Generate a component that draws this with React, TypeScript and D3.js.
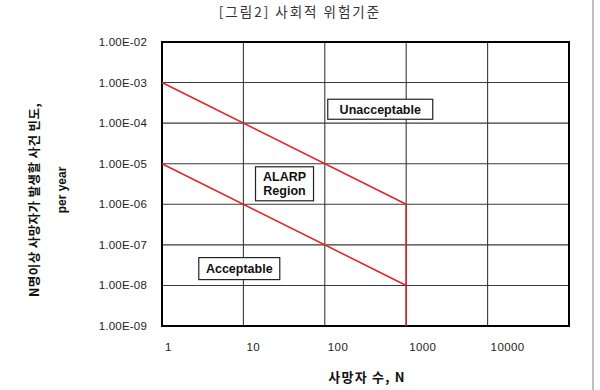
import React from 'react';
import * as d3 from 'd3';

// x: number of fatalities N, y: frequency per year
const xTicks = [1, 10, 100, 1000, 10000, 100000];
const xTickLabels = ['1', '10', '100', '1000', '10000'];
const yTicks = [1e-2, 1e-3, 1e-4, 1e-5, 1e-6, 1e-7, 1e-8, 1e-9];
const yTickLabels = ['1.00E-02', '1.00E-03', '1.00E-04', '1.00E-05', '1.00E-06', '1.00E-07', '1.00E-08', '1.00E-09'];

const upperLimit = [
  { n: 1, f: 1e-3 },
  { n: 1000, f: 1e-6 },
];
const lowerLimit = [
  { n: 1, f: 1e-5 },
  { n: 1000, f: 1e-8 },
];
const cutoff = [
  { n: 1000, f: 1e-6 },
  { n: 1000, f: 1e-9 },
];

const regionNames = [['Unacceptable'], ['ALARP', 'Region'], ['Acceptable']];
const regionN = [480, 32, 8.9];
const regionF = [2.2e-4, 3.2e-6, 2.6e-8];

interface Pt {
  n: number;
  f: number;
}

const App = () => {
  const width = 600;
  const height = 390;
  const margin = { top: 42, right: 31, bottom: 64, left: 162 };

  const x = d3.scaleLog().domain([1, 100000]).range([margin.left, width - margin.right]);
  const y = d3.scaleLog().domain([1e-9, 1e-2]).range([height - margin.bottom, margin.top]);

  const line = d3
    .line<Pt>()
    .x((d) => x(d.n))
    .y((d) => y(d.f));

  const boxW = [105, 58, 81];
  const boxH = [20, 34, 22];

  return (
    <svg
      width={width}
      height={height}
      style={{ position: 'absolute', left: 0, top: 0, background: '#fff' }}
      fontFamily="'Liberation Sans', Arial, sans-serif"
    >
      <text
        x={300}
        y={17}
        textAnchor="middle"
        fontSize={13.5}
        letterSpacing={2}
        fill="#333"
        fontFamily="'Noto Sans CJK KR', sans-serif"
      >
        [그림2] 사회적 위험기준
      </text>

      {/* grid */}
      {xTicks.slice(1, -1).map((t) => (
        <line key={'gx' + t} x1={x(t)} x2={x(t)} y1={y(1e-2)} y2={y(1e-9)} stroke="#3a3a3a" strokeWidth={1.1} />
      ))}
      {yTicks.slice(1, -1).map((t) => (
        <line key={'gy' + t} x1={x(1)} x2={x(100000)} y1={y(t)} y2={y(t)} stroke="#3a3a3a" strokeWidth={1.1} />
      ))}
      <rect
        x={x(1)}
        y={y(1e-2)}
        width={x(100000) - x(1)}
        height={y(1e-9) - y(1e-2)}
        fill="none"
        stroke="#000"
        strokeWidth={2}
      />

      {/* limits */}
      <path d={line(upperLimit) || ''} fill="none" stroke="#e0262a" strokeWidth={1.6} />
      <path d={line(lowerLimit) || ''} fill="none" stroke="#e0262a" strokeWidth={1.6} />
      <path d={line(cutoff) || ''} fill="none" stroke="#d42028" strokeWidth={1.6} />

      {/* region labels */}
      {regionNames.map((lines, i) => {
        const cx = x(regionN[i]);
        const cy = y(regionF[i]);
        return (
          <g key={'r' + i}>
            <rect
              x={cx - boxW[i] / 2}
              y={cy - boxH[i] / 2}
              width={boxW[i]}
              height={boxH[i]}
              fill="#fff"
              stroke="#222"
              strokeWidth={1.2}
            />
            {lines.map((s, j) => (
              <text
                key={s}
                x={cx}
                y={cy + (j - (lines.length - 1) / 2) * 14}
                dy="0.36em"
                textAnchor="middle"
                fontSize={12.5}
                fontWeight="bold"
                fill="#111"
              >
                {s}
              </text>
            ))}
          </g>
        );
      })}

      {/* x tick labels */}
      {xTickLabels.map((s, i) => (
        <text key={'xl' + s} x={x(xTicks[i]) + 3} y={351} fontSize={11.5} letterSpacing={0.4} fill="#222">
          {s}
        </text>
      ))}
      {/* y tick labels */}
      {yTickLabels.map((s, i) => (
        <text key={'yl' + s} x={147} y={y(yTicks[i])} dy="0.35em" textAnchor="end" fontSize={11.5} letterSpacing={0.2} fill="#222">
          {s}
        </text>
      ))}

      {/* axis titles */}
      <text
        x={367}
        y={382}
        textAnchor="middle"
        fontSize={13}
        fontWeight="bold"
        letterSpacing={1.2}
        fill="#111"
        fontFamily="'Noto Sans CJK KR', sans-serif"
      >
        사망자 수, N
      </text>
      <text
        transform="translate(35,200) rotate(-90)"
        textAnchor="middle"
        dy="0.35em"
        fontSize={12.5}
        fontWeight="bold"
        letterSpacing={0.4}
        fill="#111"
        fontFamily="'Noto Sans CJK KR', sans-serif"
      >
        N명이상 사망자가 발생할 사건 빈도,
      </text>
      <text
        transform="translate(62,190) rotate(-90)"
        textAnchor="middle"
        dy="0.35em"
        fontSize={12}
        fontWeight="bold"
        fill="#111"
      >
        per year
      </text>

      {/* page edge */}
      <line x1={593} x2={593} y1={0} y2={390} stroke="#aaa" strokeWidth={1.5} />
    </svg>
  );
};

export default App;
